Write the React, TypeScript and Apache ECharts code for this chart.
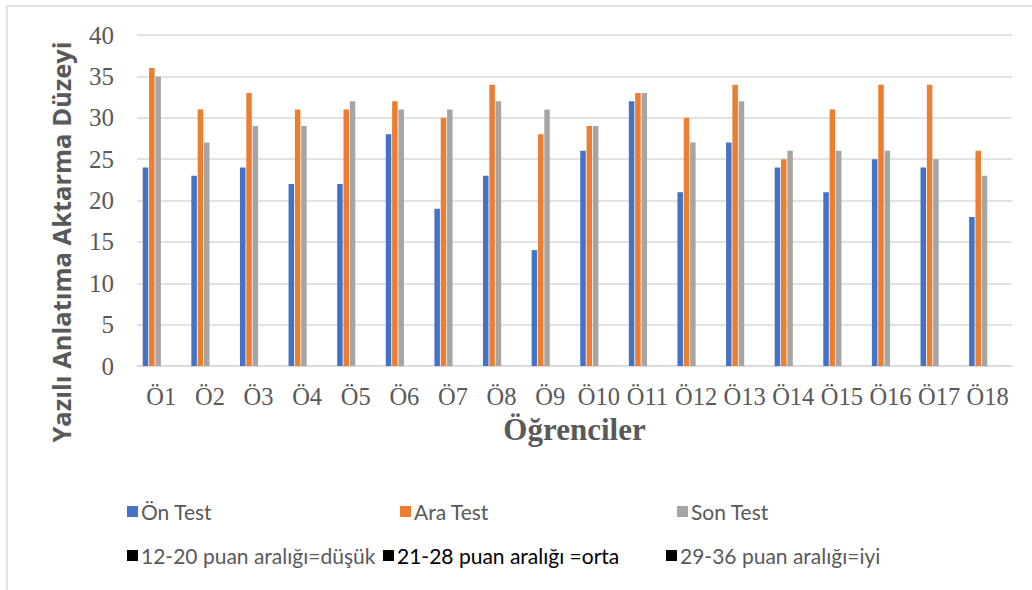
import React, { useEffect, useRef } from "react";
import * as echarts from "echarts";

const categories = ["Ö1","Ö2","Ö3","Ö4","Ö5","Ö6","Ö7","Ö8","Ö9","Ö10","Ö11","Ö12","Ö13","Ö14","Ö15","Ö16","Ö17","Ö18"];
const onTest = [24,23,24,22,22,28,19,23,14,26,32,21,27,24,21,25,24,18];
const araTest = [36,31,33,31,31,32,30,34,28,29,33,30,34,25,31,34,34,26];
const sonTest = [35,27,29,29,32,31,31,32,31,29,33,27,32,26,26,26,25,23];
const dusuk: number[] = [];
const orta: number[] = [];
const iyi: number[] = [];

const seriesNames = ["Ön Test","Ara Test","Son Test","12-20 puan aralığı=düşük","21-28 puan aralığı =orta","29-36 puan aralığı=iyi"];
const seriesData = [onTest, araTest, sonTest, dusuk, orta, iyi];
const seriesColors = ["#4472C4","#ED7D31","#A5A5A5","#000000","#000000","#000000"];

const legendPos = [
  { left: 127, top: 501, color: "#595959" },
  { left: 400, top: 501, color: "#595959" },
  { left: 677, top: 501, color: "#595959" },
  { left: 127, top: 545, color: "#595959" },
  { left: 383, top: 545, color: "#000000" },
  { left: 666, top: 545, color: "#595959" },
];

export default function App() {
  const ref = useRef<HTMLDivElement>(null);
  useEffect(() => {
    if (!ref.current) return;
    const chart = echarts.init(ref.current, undefined, { renderer: "svg" });
    chart.setOption({
      animation: false,
      backgroundColor: "#ffffff",
      grid: { left: 137, right: 20, top: 35, bottom: 224 },
      legend: seriesNames.map((n, i) => ({
        data: [n],
        left: legendPos[i].left,
        top: legendPos[i].top,
        icon: "rect",
        itemWidth: 11,
        itemHeight: 11,
        itemGap: 5,
        padding: 0,
        textStyle: { fontFamily: "Lato", fontSize: 21, color: legendPos[i].color, padding: [0, 0, 0, -2] },
      })),
      xAxis: {
        type: "category",
        data: categories,
        name: "Öğrenciler",
        nameLocation: "middle",
        nameGap: 46,
        nameTextStyle: { fontFamily: "Liberation Serif", fontWeight: "bold", fontSize: 31, color: "#595959" },
        axisLine: { lineStyle: { color: "#D9D9D9", width: 1.5 } },
        axisTick: { show: false },
        axisLabel: { interval: 0, margin: 18, fontFamily: "Liberation Serif", fontSize: 24.5, color: "#595959" },
      },
      yAxis: {
        type: "value",
        min: 0,
        max: 40,
        interval: 5,
        axisLine: { show: false },
        axisTick: { show: false },
        splitLine: { lineStyle: { color: "#D9D9D9", width: 1.5 } },
        axisLabel: { margin: 23, fontFamily: "Liberation Serif", fontSize: 25, color: "#595959" },
      },
      graphic: [
        {
          type: "rect",
          shape: { x: 7, y: 6, width: 1100, height: 700 },
          style: { fill: "none", stroke: "#D9D9D9", lineWidth: 1.5 },
          silent: true,
        },
        {
          type: "text",
          x: 61,
          y: 242,
          rotation: Math.PI / 2,
          style: {
            text: "Yazılı Anlatıma Aktarma Düzeyi",
            fontFamily: "Open Sans",
            fontWeight: "bold",
            fontSize: 25.5,
            fill: "#595959",
            textAlign: "center",
            textVerticalAlign: "middle",
          },
        },
      ],
      series: seriesNames.map((n, i) => ({
        type: "bar",
        name: n,
        data: seriesData[i],
        barWidth: 5.5,
        barGap: "15%",
        itemStyle: { color: seriesColors[i] },
      })),
    });
    return () => chart.dispose();
  }, []);
  return <div ref={ref} style={{ position: "fixed", left: 0, top: 0, width: 1032, height: 590 }} />;
}
